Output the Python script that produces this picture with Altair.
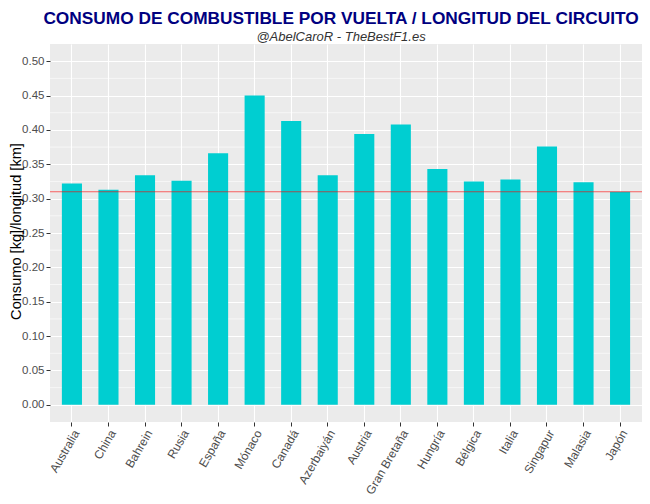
import altair as alt
import pandas as pd

circuitos = ["Australia", "China", "Bahrein", "Rusia", "España", "Mónaco", "Canadá",
             "Azerbaiyán", "Austria", "Gran Bretaña", "Hungría", "Bélgica", "Italia",
             "Singapur", "Malasia", "Japón"]
consumo = [0.322, 0.313, 0.334, 0.326, 0.366, 0.450, 0.413, 0.334, 0.394, 0.408,
           0.343, 0.325, 0.328, 0.376, 0.324, 0.310]
referencia = [0.31]
y_ticks = [0.00, 0.05, 0.10, 0.15, 0.20, 0.25, 0.30, 0.35, 0.40, 0.45, 0.50]
y_minor = [0.025, 0.075, 0.125, 0.175, 0.225, 0.275, 0.325, 0.375, 0.425, 0.475]

df = pd.DataFrame({"circuito": circuitos, "consumo": consumo})
df_minor = pd.DataFrame({"v": y_minor})
df_ref = pd.DataFrame({"r": referencia})

FONT = "Liberation Sans"
yscale = alt.Scale(domain=[-0.025, 0.525], nice=False, zero=False)
xscale = alt.Scale(domain=circuitos, paddingInner=0.45, paddingOuter=0.325)
yaxis = alt.Axis(values=y_ticks, format=".2f", title="Consumo [kg]/longitud [km]",
                 grid=True, labelFontSize=11.5, titleFontSize=14.6,
                 titleX=-34, titleY=187, titleAngle=270, titleAlign="center",
                 titleBaseline="middle")

minor = alt.Chart(df_minor).mark_rule(color="white", strokeWidth=0.6).encode(
    y=alt.Y("v:Q", scale=yscale, axis=yaxis)
)

bars = alt.Chart(df).mark_bar(color="#00CED1").encode(
    x=alt.X("circuito:N", scale=xscale, sort=circuitos,
            axis=alt.Axis(title=None, labelAngle=-60, labelAlign="right",
                          labelBaseline="top", grid=True, bandPosition=0.5,
                          labelFontSize=12, labelPadding=2)),
    y=alt.Y("consumo:Q", scale=yscale, axis=yaxis),
    y2=alt.datum(0),
)

ref = alt.Chart(df_ref).mark_rule(color="red", opacity=0.6, strokeWidth=1.2).encode(
    y=alt.Y("r:Q", scale=yscale, axis=yaxis)
)

chart = alt.layer(minor, bars, ref).properties(
    width=592, height=378,
    autosize=alt.AutoSizeParams(type="none"),
    padding={"left": 42, "top": 36, "right": 0, "bottom": 74},
    title=alt.TitleParams(
        text="CONSUMO DE COMBUSTIBLE POR VUELTA / LONGITUD DEL CIRCUITO",
        subtitle="@AbelCaroR - TheBestF1.es",
        font=FONT, fontSize=17.3, fontWeight="bold", color="#000080",
        subtitleFont=FONT, subtitleFontSize=13, subtitleFontStyle="italic",
        subtitleColor="#333333", subtitlePadding=4,
        anchor="middle", offset=0, dx=-5,
    ),
).configure_view(fill="#EBEBEB", stroke=None).configure_axis(
    domain=False, tickColor="#333333", tickSize=4, labelColor="#4D4D4D",
    labelFont=FONT, titleFont=FONT, titleColor="black", titleFontWeight="normal",
    gridColor="white", gridWidth=1.1, labelPadding=2,
)

chart.save("out.html", embed_options={"renderer": "svg", "actions": False})
